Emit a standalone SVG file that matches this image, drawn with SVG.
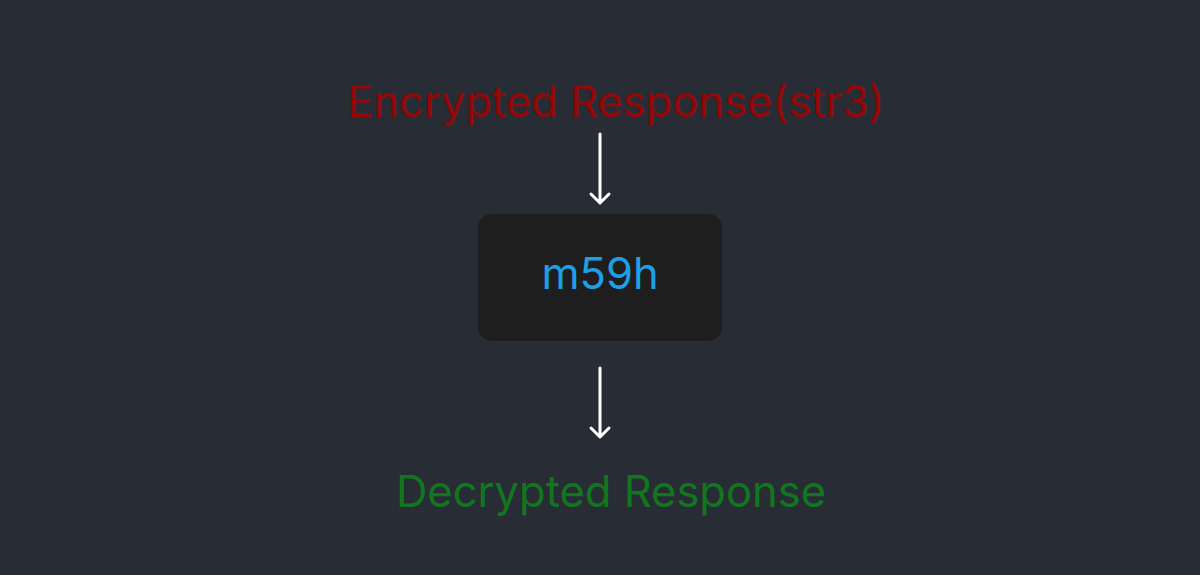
<svg xmlns="http://www.w3.org/2000/svg" width="1200" height="575" viewBox="0 0 1200 575">
<style>
.lbl{font-family:Inter,"Liberation Sans",sans-serif;font-size:43.5px;text-anchor:middle}
.arr{stroke:#ffffff;stroke-width:3;fill:none;stroke-linecap:round;stroke-linejoin:round}
</style>
<rect width="1200" height="575" fill="#282c35"/>
<g id="encrypted"><text class="lbl" x="616" y="117" fill="#950606">Encrypted Response(str3)</text></g>
<g id="m59h"><rect x="478" y="214" width="244" height="127" rx="14" fill="#1e1e1e"/><text class="lbl" x="600" y="289" fill="#1ea0e6">m59h</text></g>
<g id="decrypted"><text class="lbl" x="611" y="507" fill="#12761e">Decrypted Response</text></g>
<g id="connectors">
<path class="arr" d="M600 134 L600 200 M591 194 L600 203 L609 194"/>
<path class="arr" d="M600 368 L600 434 M591 428 L600 437 L609 428"/>
</g>
</svg>
